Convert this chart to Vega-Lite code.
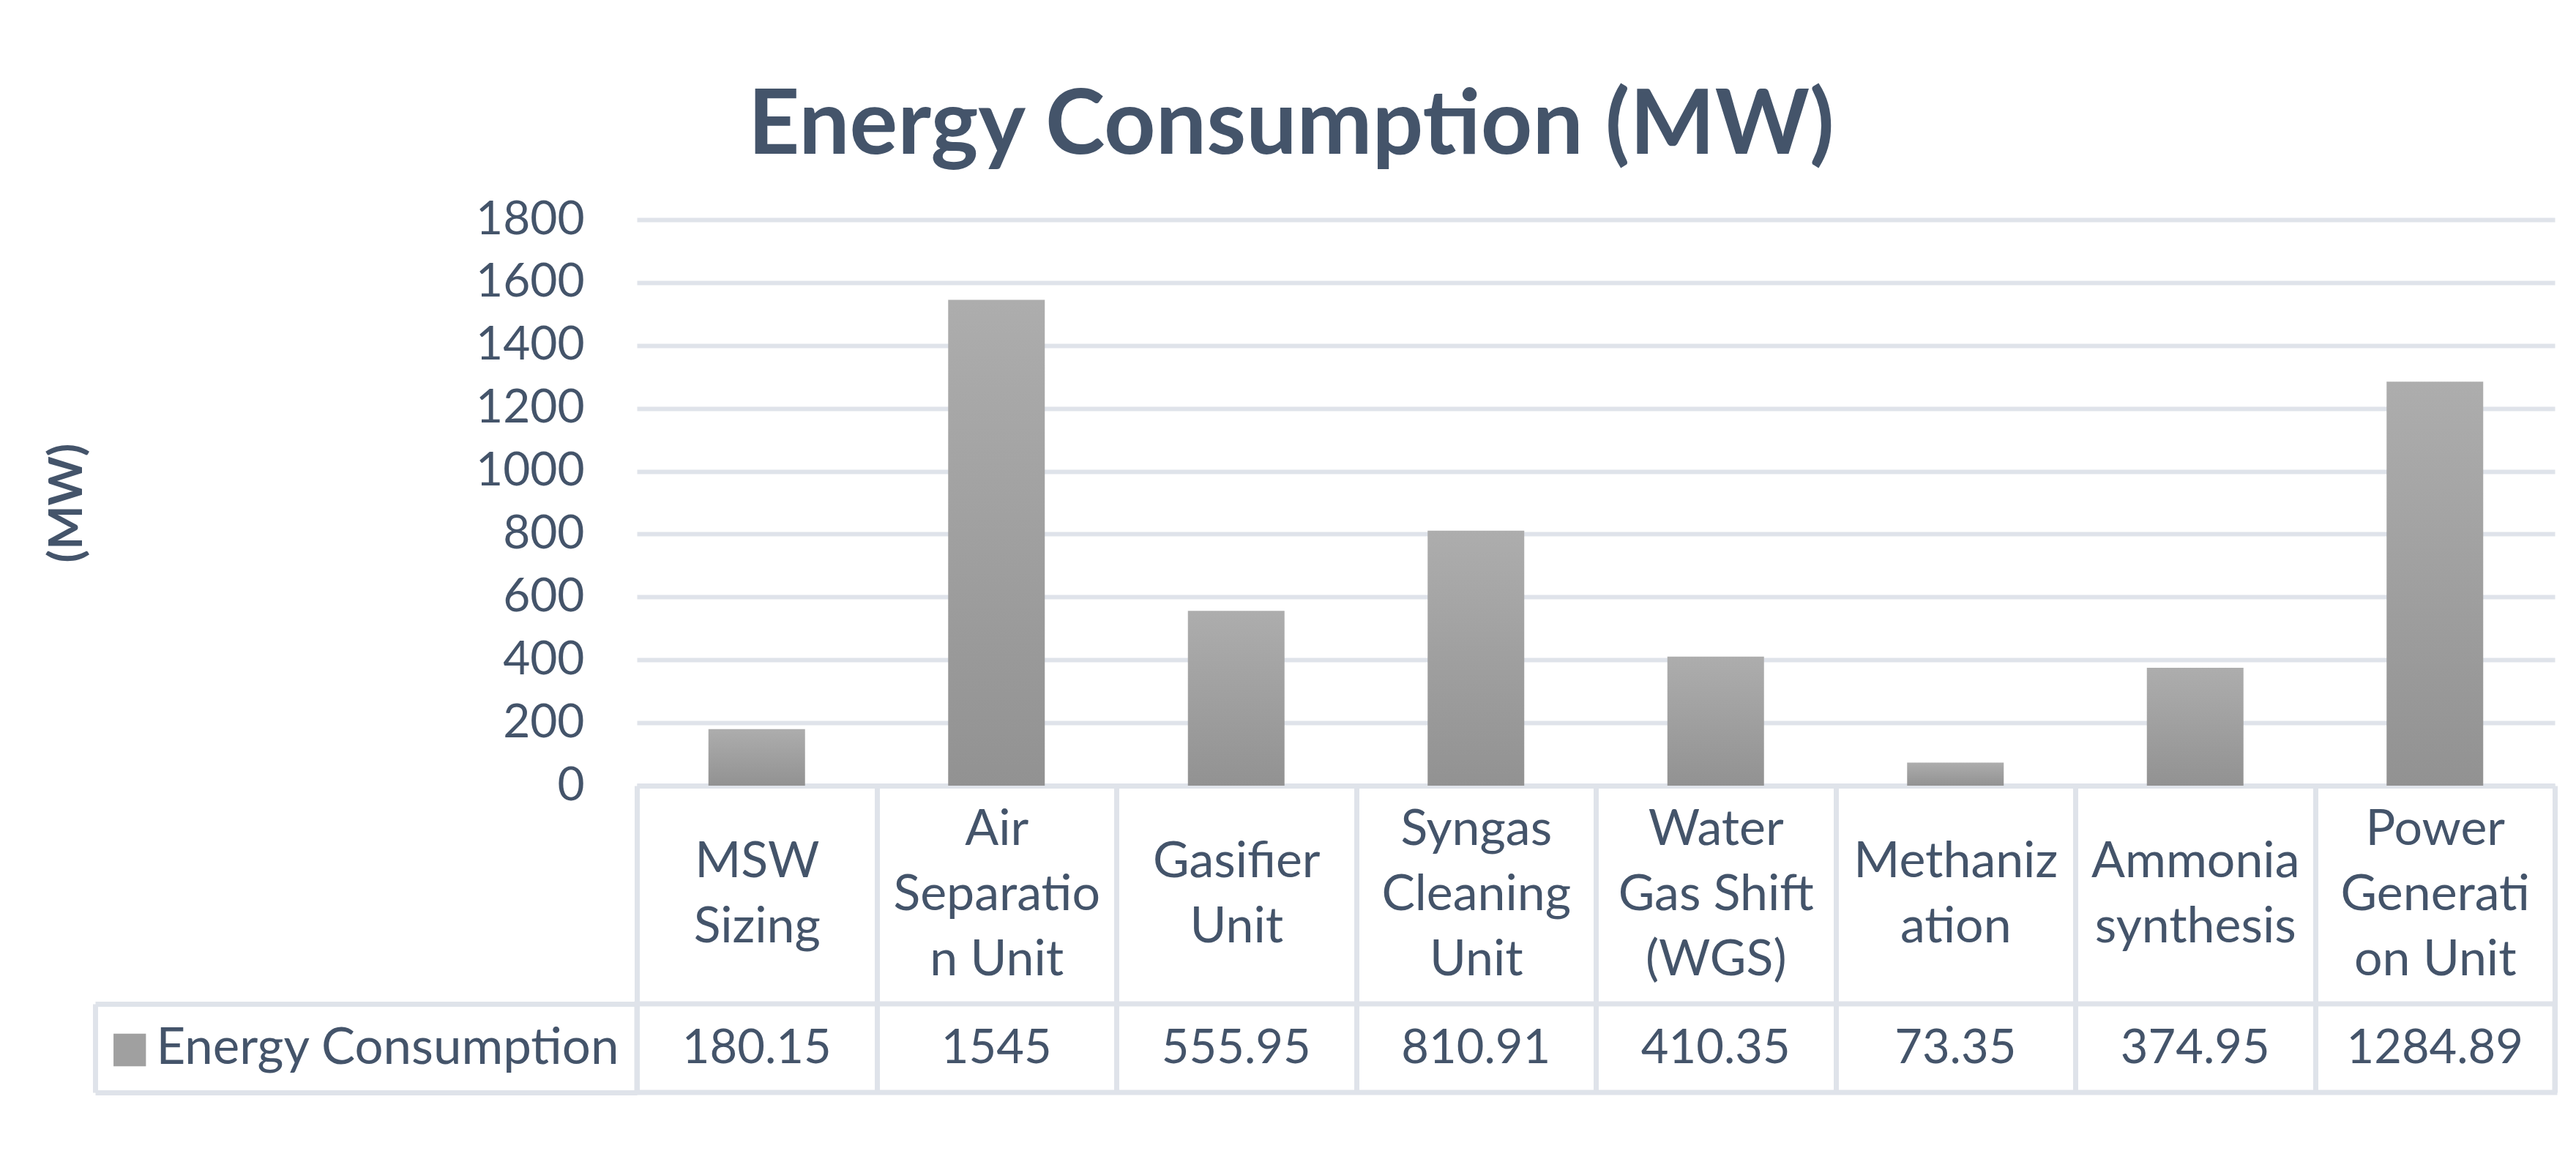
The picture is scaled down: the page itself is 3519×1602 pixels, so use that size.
{
  "$schema": "https://vega.github.io/schema/vega-lite/v6.json",
  "background": "white",
  "padding": {"left": 60, "top": 112, "right": 20, "bottom": 20},
  "title": {
    "text": "Energy Consumption (MW)",
    "font": "Lato",
    "fontSize": 123,
    "fontWeight": "bold",
    "color": "#44546a",
    "anchor": "middle",
    "frame": "bounds",
    "offset": 32,
    "dx": -13
  },
  "config": {
    "view": {"stroke": null},
    "font": "Lato",
    "axis": {"labelFont": "Lato", "titleFont": "Lato"},
    "text": {"font": "Lato"}
  },
  "datasets": {
    "energy": [
      {"unit": "MSW Sizing", "series": "Energy Consumption", "value": 180.15},
      {"unit": "Air Separation Unit", "series": "Energy Consumption", "value": 1545},
      {"unit": "Gasifier Unit", "series": "Energy Consumption", "value": 555.95},
      {"unit": "Syngas Cleaning Unit", "series": "Energy Consumption", "value": 810.91},
      {"unit": "Water Gas Shift (WGS)", "series": "Energy Consumption", "value": 410.35},
      {"unit": "Methanization", "series": "Energy Consumption", "value": 73.35},
      {"unit": "Ammonia synthesis", "series": "Energy Consumption", "value": 374.95},
      {"unit": "Power Generation Unit", "series": "Energy Consumption", "value": 1284.89}
    ]
  },
  "bounds": "flush",
  "spacing": 298,
  "vconcat": [
    {
      "width": 2620,
      "height": 773,
      "data": {"name": "energy"},
      "mark": {
        "type": "bar",
        "width": {"band": 0.403},
        "color": {
          "gradient": "linear",
          "x1": 0, "y1": 0, "x2": 0, "y2": 1,
          "stops": [
            {"offset": 0, "color": "#adadad"},
            {"offset": 1, "color": "#929292"}
          ]
        }
      },
      "encoding": {
        "x": {
          "field": "unit",
          "type": "nominal",
          "sort": null,
          "scale": {"type": "band", "paddingInner": 0, "paddingOuter": 0},
          "axis": {
            "title": null,
            "orient": "bottom",
            "domain": true,
            "domainColor": "#dfe3ea",
            "domainWidth": 7,
            "ticks": true,
            "tickBand": "extent",
            "tickSize": 419,
            "tickColor": "#dfe3ea",
            "tickWidth": 7,
            "labelAngle": 0,
            "labelFontSize": 68,
            "labelColor": "#44546a",
            "labelPadding": {
              "condition": {
                "test": "indexof(['Air Separation Unit', 'Syngas Cleaning Unit', 'Water Gas Shift (WGS)', 'Power Generation Unit'], datum.value) >= 0",
                "value": -359
              },
              "value": -315
            },
            "labelBaseline": "middle",
            "labelLineHeight": 89,
            "labelLimit": 1000,
            "labelOverlap": false,
            "labelExpr": "{'MSW Sizing':['MSW','Sizing'],'Air Separation Unit':['Air','Separatio','n Unit'],'Gasifier Unit':['Gasifier','Unit'],'Syngas Cleaning Unit':['Syngas','Cleaning','Unit'],'Water Gas Shift (WGS)':['Water','Gas Shift','(WGS)'],'Methanization':['Methaniz','ation'],'Ammonia synthesis':['Ammonia','synthesis'],'Power Generation Unit':['Power','Generati','on Unit']}[datum.label]"
          }
        },
        "y": {
          "field": "value",
          "type": "quantitative",
          "scale": {"domain": [0, 1800], "nice": false},
          "axis": {
            "values": [0, 200, 400, 600, 800, 1000, 1200, 1400, 1600, 1800],
            "format": "d",
            "title": "(MW)",
            "titleFontSize": 64,
            "titleFontWeight": "bold",
            "titleColor": "#44546a",
            "titlePadding": 546,
            "grid": true,
            "gridColor": "#dfe3ea",
            "gridWidth": 6,
            "domain": false,
            "ticks": false,
            "labelFontSize": 64,
            "labelColor": "#44546a",
            "labelPadding": 72
          }
        }
      }
    },
    {
      "width": 2620,
      "height": 121,
      "data": {"name": "energy"},
      "view": {"stroke": "#dfe3ea", "strokeWidth": 7},
      "mark": {"type": "text", "fontSize": 65, "color": "#44546a", "baseline": "middle"},
      "encoding": {
        "x": {
          "field": "unit",
          "type": "nominal",
          "sort": null,
          "scale": {"type": "band", "paddingInner": 0, "paddingOuter": 0},
          "axis": null
        },
        "y": {
          "field": "series",
          "type": "nominal",
          "scale": {"type": "band", "paddingInner": 0, "paddingOuter": 0},
          "axis": {
            "title": "■",
            "titleColor": "#a0a0a0",
            "titleFont": "DejaVu Sans",
            "titleFontSize": 58,
            "titleFontWeight": "normal",
            "titleAngle": 0,
            "titleAlign": "center",
            "titleBaseline": "middle",
            "titleX": 47,
            "titleY": 60,
            "offset": 740,
            "domain": true,
            "domainColor": "#dfe3ea",
            "domainWidth": 7,
            "ticks": true,
            "tickBand": "extent",
            "tickSize": -740,
            "tickColor": "#dfe3ea",
            "tickWidth": 7,
            "labelFontSize": 69,
            "labelColor": "#44546a",
            "labelPadding": 25,
            "labelLimit": 1000
          }
        },
        "text": {"field": "value", "type": "nominal"}
      }
    }
  ]
}
